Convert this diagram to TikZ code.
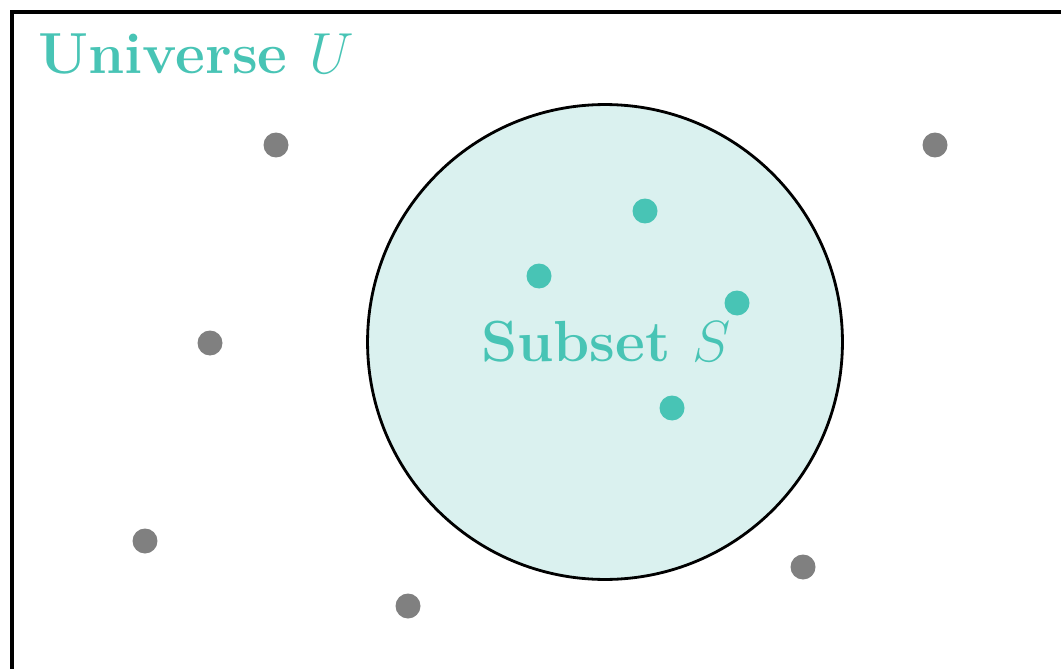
\RequirePackage{fix-cm}
\documentclass[tikz,border=0pt]{standalone}
\usepackage{amsmath,amssymb}
\usepackage{tikz}
\usetikzlibrary{positioning}

\definecolor{tealS}{HTML}{48C4B5}
\definecolor{tealfill}{HTML}{DAF1EF}
\definecolor{grayU}{HTML}{808080}

\begin{document}
\begin{tikzpicture}[
  x=0.02cm, y=-0.02cm,
  dot/.style={circle, inner sep=0pt, minimum size=0.5cm},
  outer/.style={dot, fill=grayU},
  inner/.style={dot, fill=tealS},
  lbl/.style={text=tealS, font=\fontsize{33}{40}\selectfont\bfseries, inner sep=0pt}
]
\useasboundingbox (0,0) rectangle (1061,669);
\clip (0,0) rectangle (1061,669);
\draw[line width=2.3pt] (12,12) rectangle (1120,720);
\node[lbl, anchor=base west] (univ) at (38,73) {Universe $U$};

\draw[line width=1.6pt, fill=tealfill] (605,342) circle[radius=4.75cm];
\node[lbl] (sub) at (606,342) {Subset $S$};

% elements outside S
\node[outer] (u1) at (276,145) {};
\node[outer] (u2) at (935,145) {};
\node[outer] (u3) at (210,343) {};
\node[outer] (u4) at (145,541) {};
\node[outer] (u5) at (408,606) {};
\node[outer] (u6) at (803,567) {};

% elements of S
\node[inner] (s1) at (645,211) {};
\node[inner] (s2) at (539,276) {};
\node[inner] (s3) at (737,303) {};
\node[inner] (s4) at (672,408) {};
\end{tikzpicture}
\end{document}
